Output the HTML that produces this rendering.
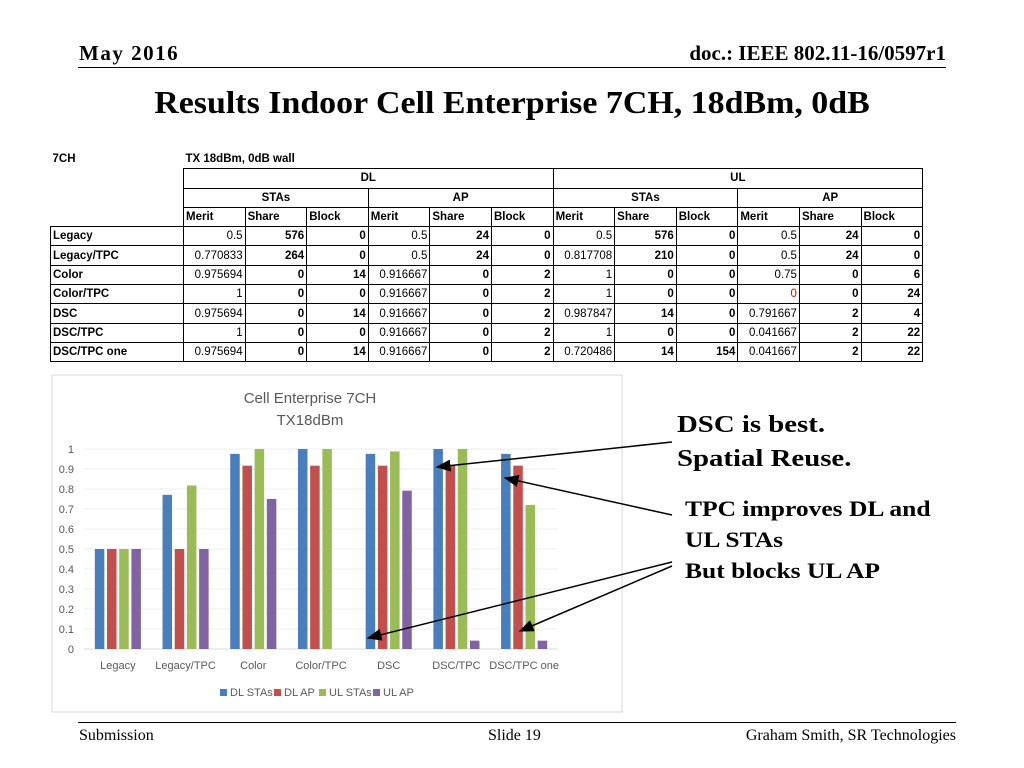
<!DOCTYPE html>
<html><head><meta charset="utf-8"><style>
body{margin:0;width:1024px;height:768px;background:#fff;position:relative;overflow:hidden;font-family:"Liberation Serif",serif}
.a{position:absolute;white-space:nowrap}
.hdr{font-weight:bold;font-size:21px}
table{position:absolute;left:50px;top:150px;border-collapse:collapse;font-family:"Liberation Sans",sans-serif;font-size:11.5px}
td{height:18.3px;padding:0 2px;line-height:18px}
.g td{border:1px solid #000}
.r{text-align:right}.b{font-weight:bold}.c{text-align:center;font-weight:bold}
</style></head><body>
<div class="a hdr" style="left:79px;top:41px;letter-spacing:1.5px">May 2016</div>
<div class="a hdr" style="right:78px;top:41px">doc.: IEEE 802.11-16/0597r1</div>
<div class="a" style="left:78px;top:67px;width:868px;height:1px;background:#000"></div>
<div class="a" style="left:0;width:1024px;text-align:center;top:84px;font-weight:bold;font-size:32px;transform:scaleX(1.06)">Results Indoor Cell Enterprise 7CH, 18dBm, 0dB</div>

<table>
<colgroup><col style="width:133px"><col span="12" style="width:61.6px"></colgroup>
<tr><td class="b">7CH</td><td colspan="4" class="b">TX 18dBm, 0dB wall</td></tr>
<tr class="g"><td style="border:none"></td><td colspan="6" class="c">DL</td><td colspan="6" class="c">UL</td></tr>
<tr class="g"><td style="border:none"></td><td colspan="3" class="c">STAs</td><td colspan="3" class="c">AP</td><td colspan="3" class="c">STAs</td><td colspan="3" class="c">AP</td></tr>
<tr class="g b"><td style="border:none"></td><td>Merit</td><td>Share</td><td>Block</td><td>Merit</td><td>Share</td><td>Block</td><td>Merit</td><td>Share</td><td>Block</td><td>Merit</td><td>Share</td><td>Block</td></tr>
<tr class="g"><td class="b">Legacy</td><td class="r">0.5</td><td class="r b">576</td><td class="r b">0</td><td class="r">0.5</td><td class="r b">24</td><td class="r b">0</td><td class="r">0.5</td><td class="r b">576</td><td class="r b">0</td><td class="r">0.5</td><td class="r b">24</td><td class="r b">0</td></tr>
<tr class="g"><td class="b">Legacy/TPC</td><td class="r">0.770833</td><td class="r b">264</td><td class="r b">0</td><td class="r">0.5</td><td class="r b">24</td><td class="r b">0</td><td class="r">0.817708</td><td class="r b">210</td><td class="r b">0</td><td class="r">0.5</td><td class="r b">24</td><td class="r b">0</td></tr>
<tr class="g"><td class="b">Color</td><td class="r">0.975694</td><td class="r b">0</td><td class="r b">14</td><td class="r">0.916667</td><td class="r b">0</td><td class="r b">2</td><td class="r">1</td><td class="r b">0</td><td class="r b">0</td><td class="r">0.75</td><td class="r b">0</td><td class="r b">6</td></tr>
<tr class="g"><td class="b">Color/TPC</td><td class="r">1</td><td class="r b">0</td><td class="r b">0</td><td class="r">0.916667</td><td class="r b">0</td><td class="r b">2</td><td class="r">1</td><td class="r b">0</td><td class="r b">0</td><td class="r" style="color:#e00">0</td><td class="r b">0</td><td class="r b">24</td></tr>
<tr class="g"><td class="b">DSC</td><td class="r">0.975694</td><td class="r b">0</td><td class="r b">14</td><td class="r">0.916667</td><td class="r b">0</td><td class="r b">2</td><td class="r">0.987847</td><td class="r b">14</td><td class="r b">0</td><td class="r">0.791667</td><td class="r b">2</td><td class="r b">4</td></tr>
<tr class="g"><td class="b">DSC/TPC</td><td class="r">1</td><td class="r b">0</td><td class="r b">0</td><td class="r">0.916667</td><td class="r b">0</td><td class="r b">2</td><td class="r">1</td><td class="r b">0</td><td class="r b">0</td><td class="r">0.041667</td><td class="r b">2</td><td class="r b">22</td></tr>
<tr class="g"><td class="b">DSC/TPC one</td><td class="r">0.975694</td><td class="r b">0</td><td class="r b">14</td><td class="r">0.916667</td><td class="r b">0</td><td class="r b">2</td><td class="r">0.720486</td><td class="r b">14</td><td class="r b">154</td><td class="r">0.041667</td><td class="r b">2</td><td class="r b">22</td></tr>
</table>

<svg class="a" style="left:0;top:0" width="1024" height="768" id="chart">
<rect x="52" y="375" width="570" height="337" fill="#fff" stroke="#d9d9d9"/>
<text x="310" y="403" text-anchor="middle" font-family="Liberation Sans,sans-serif" font-size="15" fill="#595959"><tspan x="310">Cell Enterprise 7CH</tspan><tspan x="310" dy="22">TX18dBm</tspan></text>
<g id="grid"></g><g id="bars"></g><g id="legend"></g>
</svg>

<div class="a" style="left:677px;top:408px;font-weight:bold;font-size:24px;line-height:34px;transform:scaleX(1.2);transform-origin:left">DSC is best.<br>Spatial Reuse.</div>
<div class="a" style="left:685px;top:493px;font-weight:bold;font-size:22px;line-height:31px;transform:scaleX(1.16);transform-origin:left">TPC improves DL and<br>UL STAs<br>But blocks UL AP</div>

<svg class="a" style="left:0;top:0" width="1024" height="768">
<defs><marker id="ah" markerWidth="10" markerHeight="8" refX="9" refY="4" orient="auto"><path d="M0,0L10,4L0,8z" fill="#000"/></marker></defs>
<g stroke="#000" stroke-width="1.5" marker-end="url(#ah)">
<line x1="672" y1="442" x2="437" y2="467"/>
<line x1="672" y1="515" x2="505" y2="478"/>
<line x1="672" y1="562" x2="368" y2="638"/>
<line x1="672" y1="566" x2="520" y2="631"/>
</g></svg>

<div class="a" style="left:78px;top:722px;width:878px;height:1px;background:#000"></div>
<div class="a" style="left:79px;top:727px;font-size:16px">Submission</div>
<div class="a" style="left:488px;top:727px;font-size:16px">Slide 19</div>
<div class="a" style="right:68px;top:727px;font-size:16px">Graham Smith, SR Technologies</div>

<script>
const categories=["Legacy","Legacy/TPC","Color","Color/TPC","DSC","DSC/TPC","DSC/TPC one"];
const seriesNames=["DL STAs","DL AP","UL STAs","UL AP"];
const dlSTAs=[0.5,0.770833,0.975694,1,0.975694,1,0.975694];
const dlAP=[0.5,0.5,0.916667,0.916667,0.916667,0.916667,0.916667];
const ulSTAs=[0.5,0.817708,1,1,0.987847,1,0.720486];
const ulAP=[0.5,0.5,0.75,0,0.791667,0.041667,0.041667];
const yTicks=["0","0.1","0.2","0.3","0.4","0.5","0.6","0.7","0.8","0.9","1"];
const colors=["#4a7ebb","#c0504d","#9bbb59","#8064a2"];
const series=[dlSTAs,dlAP,ulSTAs,ulAP];
const NS="http://www.w3.org/2000/svg";
const X0=84,X1=558,Y0=649,Y1=449;
const y=v=>Y0-(v/1)*(Y0-Y1);
const bandW=(X1-X0)/categories.length;
const x=i=>X0+i*bandW;
const barW=9.5,gap=2.7;
function el(t,a,p){const e=document.createElementNS(NS,t);for(const k in a)e.setAttribute(k,a[k]);p.appendChild(e);return e;}
const grid=document.getElementById('grid'),bars=document.getElementById('bars'),leg=document.getElementById('legend');
yTicks.forEach(t=>{const v=parseFloat(t);
 const l=el('line',{x1:X0,x2:X1,y1:y(v),y2:y(v),stroke:v===0?'#d9d9d9':'#ececec'},grid);
 
 
 const tx=el('text',{x:74,y:y(v)+4,'text-anchor':'end','font-family':'Liberation Sans,sans-serif','font-size':11,fill:'#595959'},grid);
 tx.textContent=t;
 
 
});
categories.forEach((c,i)=>{
 const gw=4*barW+3*gap, start=x(i)+(bandW-gw)/2;
 series.forEach((s,j)=>{
  const r=el('rect',{x:start+j*(barW+gap),y:y(s[i]),width:barW,height:Y0-y(s[i]),fill:colors[j]},bars);
  
  
 });
 const t=el('text',{x:x(i)+bandW/2,y:669,'text-anchor':'middle','font-family':'Liberation Sans,sans-serif','font-size':11,fill:'#595959'},bars);
 t.textContent=c;
 
 
});
const lx=[220,274,319,373];
seriesNames.forEach((n,j)=>{
 const r=el('rect',{x:lx[j],y:689,width:7,height:7,fill:colors[j]},leg);
 
 
 const t=el('text',{x:lx[j]+10,y:696,'font-family':'Liberation Sans,sans-serif','font-size':11,fill:'#595959'},leg);
 t.textContent=n;
 
 
});
</script>
</body></html>
